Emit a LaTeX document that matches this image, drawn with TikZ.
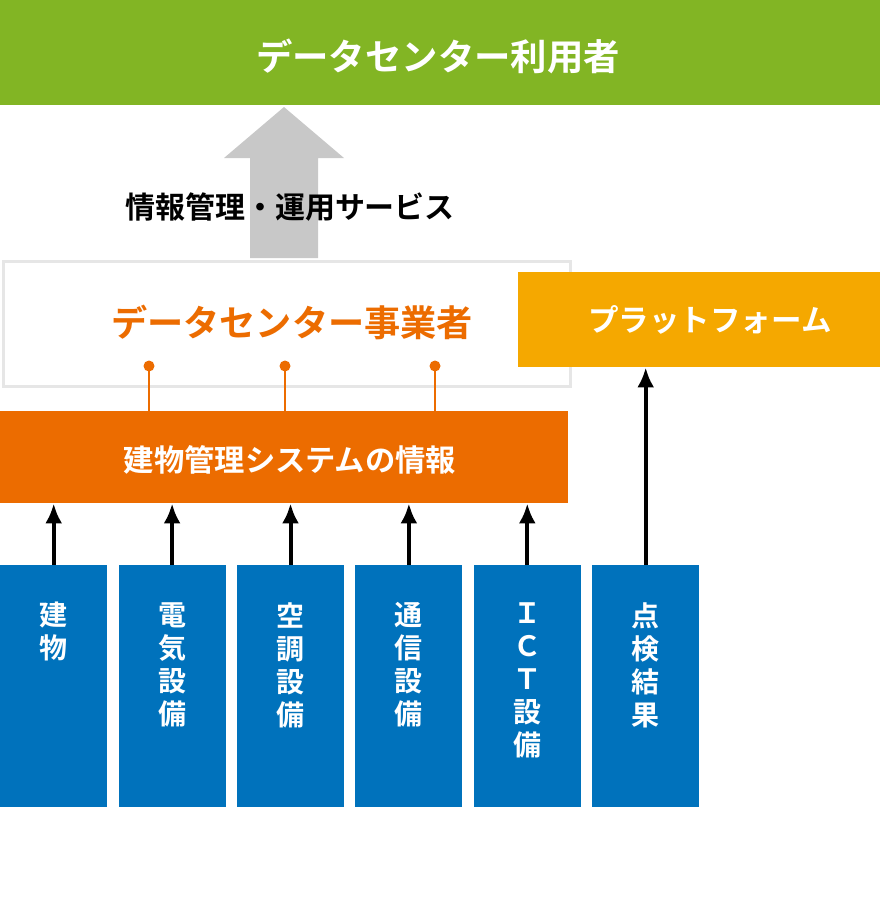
\documentclass[tikz,border=0pt]{standalone}
\usepackage{fontspec}
\setmainfont{Noto Sans CJK JP}[BoldFont={* Bold}]
\usetikzlibrary{arrows.meta}
\definecolor{usergreen}{RGB}{130,181,36}
\definecolor{bmsorange}{RGB}{236,108,0}
\definecolor{pfyellow}{RGB}{245,168,0}
\definecolor{devblue}{RGB}{0,114,188}
\definecolor{svcgray}{RGB}{200,200,200}
\definecolor{frame}{RGB}{230,230,230}
\begin{document}
\begin{tikzpicture}[x=1pt, y=-1pt,
        band/.style={rectangle, anchor=north west, inner sep=0pt, font=\bfseries},
        dev/.style={band, fill=devblue, minimum width=107pt, minimum height=242pt},
        devtext/.style={anchor=north, align=center, text=white, inner sep=0pt, font=\fontsize{28}{33}\selectfont\bfseries},
        arrow/.style={line width=4pt, -{Latex[length=20pt, width=17pt]}},
        tap/.style={bmsorange, line width=2.5pt}
    ]
        \useasboundingbox (0,0) rectangle (880,906);

        % top band
        \node[band, fill=usergreen, minimum width=880pt, minimum height=105pt, text=white] (user) at (0,0) {};
        \node[text=white, font=\fontsize{36.4}{36}\selectfont\bfseries] (usertxt) at (438,56) {データセンター利用者};

        % service arrow
        \fill[svcgray] (250,258) -- (250,158) -- (224,158) -- (284,107) -- (344,158) -- (318,158) -- (318,258) -- cycle;
        \node[font=\fontsize{30}{30}\selectfont\bfseries] (svc) at (290,207) {情報管理・運用サービス};

        % operator
        \node[band, draw=frame, line width=3pt, fill=white, minimum width=567pt, minimum height=125pt] (op) at (1.5,259.5) {};
        \node[text=bmsorange, font=\fontsize{36.2}{36}\selectfont\bfseries] (optxt) at (292,322) {データセンター事業者};

        % platform
        \node[band, fill=pfyellow, minimum width=362pt, minimum height=95pt] (pf) at (518,272) {};
        \node[text=white, font=\fontsize{30.5}{30}\selectfont\bfseries] (pftxt) at (710,320) {プラットフォーム};

        % building management information
        \node[band, fill=bmsorange, minimum width=568pt, minimum height=92pt] (bms) at (0,411) {};
        \node[text=white, font=\fontsize{30.3}{30}\selectfont\bfseries] (bmstxt) at (290,460) {建物管理システムの情報};

        \foreach \x/\n in {149/a, 285/b, 435/c} {
            \coordinate (tap\n) at (\x,366);
            \draw[tap] (tap\n) -- (tap\n |- bms.north);
            \fill[bmsorange] (tap\n) circle (5.5pt);
        }

        % equipment
        \foreach \i/\lbl in {0/{建\\物}, 1/{電\\気\\設\\備}, 2/{空\\調\\設\\備}, 3/{通\\信\\設\\備}, 4/{Ｉ\\Ｃ\\Ｔ\\設\\備}, 5/{点\\検\\結\\果}} {
            \node[dev] (dev\i) at ({\i*118.4},565) {};
            \node[devtext] (devtxt\i) at ([yshift=-37pt]dev\i.north) {\lbl};
        }

        \foreach \i in {0,...,4} {
            \draw[arrow] (dev\i.north) -- (dev\i.north |- bms.south);
        }
        \draw[arrow] (dev5.north) -- (dev5.north |- pf.south);
    \end{tikzpicture}
\end{document}
